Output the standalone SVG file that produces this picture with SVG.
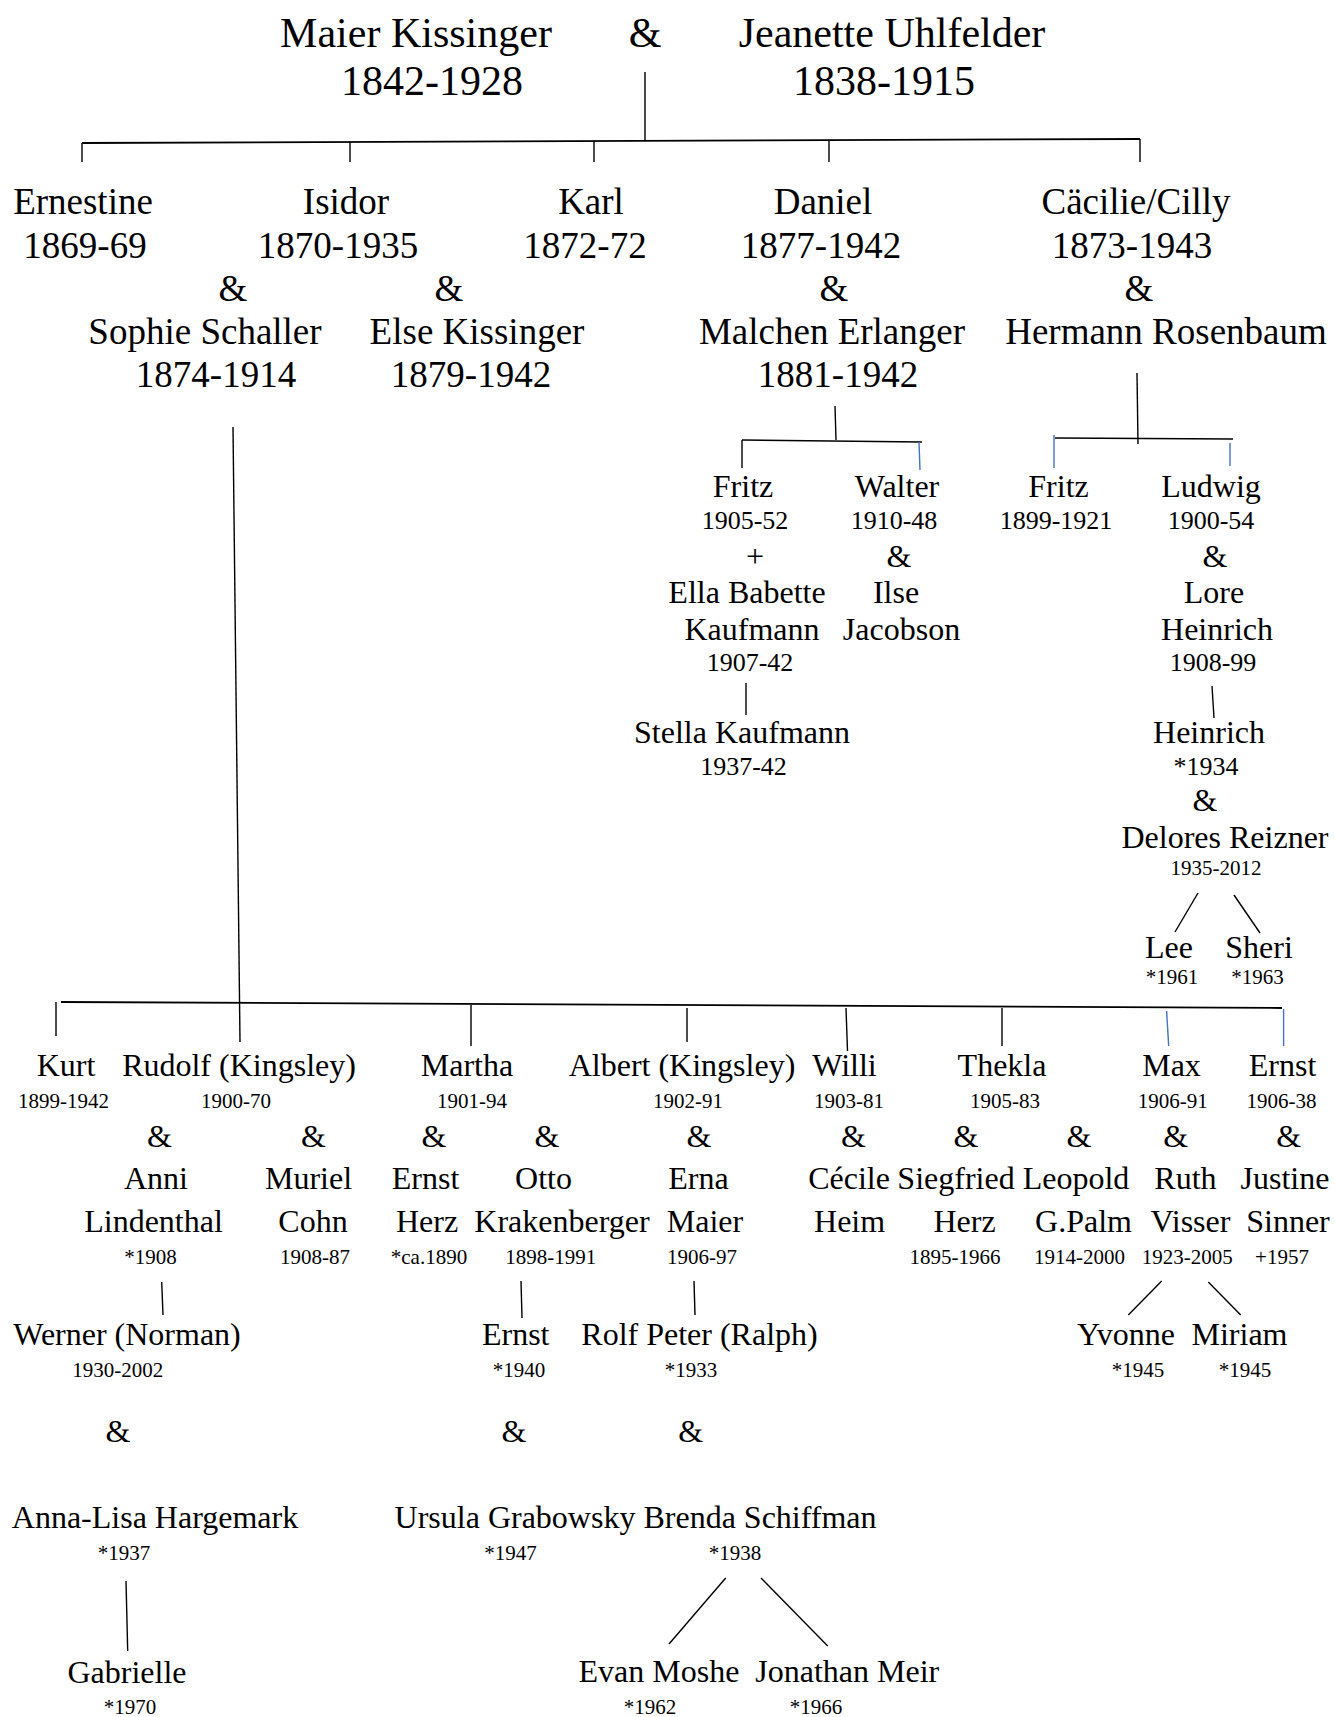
<svg xmlns="http://www.w3.org/2000/svg" width="1335" height="1717" viewBox="0 0 1335 1717">
<style>
text{font-family:"Liberation Serif","Times New Roman",serif;fill:#000;text-anchor:middle}
.t42{font-size:42px}
.t37{font-size:37px}
.n32{font-size:32px}
.y26{font-size:26px}
.y21{font-size:21px}
.c line{stroke:#000;stroke-width:1.4;fill:none}
.c line.b{stroke:#4472C4}
.c line.h{stroke-width:1.8}
</style>
<rect width="1335" height="1717" fill="#fff"/>
<g class="c" id="connectors">
<line x1="645" y1="72" x2="645" y2="140"/>
<line class="h" x1="82" y1="143" x2="1140" y2="139"/>
<line x1="82" y1="143" x2="82" y2="162"/>
<line x1="350" y1="142" x2="350" y2="162"/>
<line x1="594" y1="141" x2="594" y2="162"/>
<line x1="829" y1="140" x2="829" y2="162"/>
<line x1="1140" y1="139" x2="1140" y2="162"/>
<line x1="233" y1="427" x2="240" y2="1042"/>
<line x1="835" y1="406" x2="836" y2="440"/>
<line x1="742" y1="440" x2="922" y2="442"/>
<line x1="742" y1="440" x2="742" y2="468"/>
<line class="b" x1="919" y1="442" x2="920" y2="470"/>
<line x1="1137" y1="373" x2="1138" y2="444"/>
<line x1="1055" y1="438" x2="1233" y2="439"/>
<line class="b" x1="1054" y1="435" x2="1054" y2="468"/>
<line class="b" x1="1230" y1="443" x2="1230" y2="466"/>
<line x1="746" y1="683" x2="746" y2="715"/>
<line x1="1212" y1="686" x2="1214" y2="718"/>
<line x1="1198" y1="893" x2="1175" y2="932"/>
<line x1="1234" y1="895" x2="1260" y2="933"/>
<line class="h" x1="61" y1="1002" x2="1282" y2="1008"/>
<line x1="56" y1="1002" x2="56" y2="1036"/>
<line x1="471" y1="1005" x2="471" y2="1046"/>
<line x1="687" y1="1008" x2="687" y2="1042"/>
<line x1="846" y1="1008" x2="847.5" y2="1051"/>
<line x1="1002" y1="1008" x2="1002" y2="1046"/>
<line class="b" x1="1166.6" y1="1011" x2="1168.7" y2="1046"/>
<line class="b" x1="1283.6" y1="1009" x2="1283.6" y2="1046"/>
<line x1="161.7" y1="1282" x2="163" y2="1315"/>
<line x1="521" y1="1281" x2="522" y2="1318"/>
<line x1="694" y1="1281" x2="695" y2="1315"/>
<line x1="1161.7" y1="1281" x2="1128.3" y2="1315"/>
<line x1="1208.3" y1="1282" x2="1240.7" y2="1315"/>
<line x1="126" y1="1581" x2="127.7" y2="1651"/>
<line x1="725.7" y1="1578" x2="669" y2="1644"/>
<line x1="761" y1="1578" x2="827.7" y2="1646"/>
</g>
<g id="maier"><text class="t42" x="416" y="47">Maier Kissinger</text><text class="t42" x="432" y="95">1842-1928</text></g>
<g id="amp-top"><text class="t42" x="645" y="47">&amp;</text></g>
<g id="jeanette"><text class="t42" x="892" y="47">Jeanette Uhlfelder</text><text class="t42" x="884" y="95">1838-1915</text></g>
<g id="ernestine"><text class="t37" x="83" y="214">Ernestine</text><text class="t37" x="85" y="258">1869-69</text></g>
<g id="isidor"><text class="t37" x="346" y="214">Isidor</text><text class="t37" x="338" y="258">1870-1935</text></g>
<g id="sophie"><text class="t37" x="233" y="301">&amp;</text><text class="t37" x="205" y="344">Sophie Schaller</text><text class="t37" x="216" y="387">1874-1914</text></g>
<g id="else"><text class="t37" x="449" y="301">&amp;</text><text class="t37" x="477" y="344">Else Kissinger</text><text class="t37" x="471" y="387">1879-1942</text></g>
<g id="karl"><text class="t37" x="591" y="214">Karl</text><text class="t37" x="585" y="258">1872-72</text></g>
<g id="daniel"><text class="t37" x="823" y="214">Daniel</text><text class="t37" x="821" y="258">1877-1942</text><text class="t37" x="834" y="301">&amp;</text><text class="t37" x="832" y="344">Malchen Erlanger</text><text class="t37" x="838" y="387">1881-1942</text></g>
<g id="cacilie"><text class="t37" x="1136" y="214">Cäcilie/Cilly</text><text class="t37" x="1132" y="258">1873-1943</text><text class="t37" x="1139" y="301">&amp;</text><text class="t37" x="1166" y="344">Hermann Rosenbaum</text></g>
<g id="fritz-e"><text class="n32" x="743" y="497">Fritz</text><text class="y26" x="745" y="529">1905-52</text><text class="n32" x="755" y="567">+</text><text class="n32" x="747" y="603">Ella Babette</text><text class="n32" x="752" y="640">Kaufmann</text><text class="y26" x="750" y="671">1907-42</text></g>
<g id="stella"><text class="n32" x="742" y="743">Stella Kaufmann</text><text class="y26" x="743.5" y="775">1937-42</text></g>
<g id="walter"><text class="n32" x="897" y="497">Walter</text><text class="y26" x="894" y="529">1910-48</text><text class="n32" x="899" y="567">&amp;</text><text class="n32" x="896" y="603">Ilse</text><text class="n32" x="901.5" y="640">Jacobson</text></g>
<g id="fritz-r"><text class="n32" x="1058.5" y="497">Fritz</text><text class="y26" x="1056" y="529">1899-1921</text></g>
<g id="ludwig"><text class="n32" x="1211" y="497">Ludwig</text><text class="y26" x="1211" y="529">1900-54</text><text class="n32" x="1215" y="567">&amp;</text><text class="n32" x="1214" y="603">Lore</text><text class="n32" x="1217" y="640">Heinrich</text><text class="y26" x="1213" y="671">1908-99</text></g>
<g id="heinrich"><text class="n32" x="1209" y="743">Heinrich</text><text class="y26" x="1206" y="775">*1934</text><text class="n32" x="1205" y="811">&amp;</text><text class="n32" x="1225" y="848">Delores Reizner</text><text class="y21" x="1216" y="875">1935-2012</text></g>
<g id="lee"><text class="n32" x="1169" y="958">Lee</text><text class="y21" x="1172" y="984">*1961</text></g>
<g id="sheri"><text class="n32" x="1259" y="958">Sheri</text><text class="y21" x="1257.5" y="984">*1963</text></g>
<g id="kurt"><text class="n32" x="66" y="1076">Kurt</text><text class="y21" x="63.6" y="1108">1899-1942</text></g>
<g id="rudolf"><text class="n32" x="239" y="1076">Rudolf (Kingsley)</text><text class="y21" x="236" y="1108">1900-70</text></g>
<g id="anni"><text class="n32" x="159.5" y="1147">&amp;</text><text class="n32" x="156" y="1189">Anni</text><text class="n32" x="153.5" y="1232">Lindenthal</text><text class="y21" x="150.5" y="1264">*1908</text></g>
<g id="muriel"><text class="n32" x="313.4" y="1147">&amp;</text><text class="n32" x="308.5" y="1189">Muriel</text><text class="n32" x="313" y="1232">Cohn</text><text class="y21" x="315" y="1264">1908-87</text></g>
<g id="martha"><text class="n32" x="467" y="1076">Martha</text><text class="y21" x="472" y="1108">1901-94</text></g>
<g id="ernst-herz"><text class="n32" x="434" y="1147">&amp;</text><text class="n32" x="425.5" y="1189">Ernst</text><text class="n32" x="427" y="1232">Herz</text><text class="y21" x="429" y="1264">*ca.1890</text></g>
<g id="otto"><text class="n32" x="547" y="1147">&amp;</text><text class="n32" x="543.5" y="1189">Otto</text><text class="n32" x="562" y="1232">Krakenberger</text><text class="y21" x="550.7" y="1264">1898-1991</text></g>
<g id="albert"><text class="n32" x="682" y="1076">Albert (Kingsley)</text><text class="y21" x="688" y="1108">1902-91</text><text class="n32" x="699" y="1147">&amp;</text><text class="n32" x="698.5" y="1189">Erna</text><text class="n32" x="705" y="1232">Maier</text><text class="y21" x="702" y="1264">1906-97</text></g>
<g id="willi"><text class="n32" x="844.5" y="1076">Willi</text><text class="y21" x="849" y="1108">1903-81</text><text class="n32" x="853.4" y="1147">&amp;</text><text class="n32" x="849" y="1189">Cécile</text><text class="n32" x="849.6" y="1232">Heim</text></g>
<g id="thekla"><text class="n32" x="1002" y="1076">Thekla</text><text class="y21" x="1005" y="1108">1905-83</text></g>
<g id="siegfried"><text class="n32" x="966" y="1147">&amp;</text><text class="n32" x="956" y="1189">Siegfried</text><text class="n32" x="964.5" y="1232">Herz</text><text class="y21" x="955" y="1264">1895-1966</text></g>
<g id="leopold"><text class="n32" x="1079" y="1147">&amp;</text><text class="n32" x="1076" y="1189">Leopold</text><text class="n32" x="1083.5" y="1232">G.Palm</text><text class="y21" x="1079.5" y="1264">1914-2000</text></g>
<g id="max"><text class="n32" x="1171.5" y="1076">Max</text><text class="y21" x="1172.7" y="1108">1906-91</text><text class="n32" x="1175.8" y="1147">&amp;</text><text class="n32" x="1185.4" y="1189">Ruth</text><text class="n32" x="1190.5" y="1232">Visser</text><text class="y21" x="1187.3" y="1264">1923-2005</text></g>
<g id="ernst-s"><text class="n32" x="1282.6" y="1076">Ernst</text><text class="y21" x="1281.5" y="1108">1906-38</text><text class="n32" x="1288.6" y="1147">&amp;</text><text class="n32" x="1285" y="1189">Justine</text><text class="n32" x="1288" y="1232">Sinner</text><text class="y21" x="1282" y="1264">+1957</text></g>
<g id="werner"><text class="n32" x="127" y="1345">Werner (Norman)</text><text class="y21" x="117.7" y="1377">1930-2002</text><text class="n32" x="118" y="1442">&amp;</text></g>
<g id="anna-lisa"><text class="n32" x="155" y="1528">Anna-Lisa Hargemark</text><text class="y21" x="124" y="1560">*1937</text></g>
<g id="gabrielle"><text class="n32" x="127" y="1683">Gabrielle</text><text class="y21" x="130" y="1714">*1970</text></g>
<g id="ernst-k"><text class="n32" x="515.7" y="1345">Ernst</text><text class="y21" x="519" y="1377">*1940</text><text class="n32" x="514" y="1442">&amp;</text></g>
<g id="ursula"><text class="n32" x="515" y="1528">Ursula Grabowsky</text><text class="y21" x="510.6" y="1560">*1947</text></g>
<g id="rolf"><text class="n32" x="699.5" y="1345">Rolf Peter (Ralph)</text><text class="y21" x="691" y="1377">*1933</text><text class="n32" x="690.7" y="1442">&amp;</text></g>
<g id="brenda"><text class="n32" x="760" y="1528">Brenda Schiffman</text><text class="y21" x="735" y="1560">*1938</text></g>
<g id="evan"><text class="n32" x="659" y="1682">Evan Moshe</text><text class="y21" x="650" y="1714">*1962</text></g>
<g id="jonathan"><text class="n32" x="847.3" y="1682">Jonathan Meir</text><text class="y21" x="816" y="1714">*1966</text></g>
<g id="yvonne"><text class="n32" x="1126" y="1345">Yvonne</text><text class="y21" x="1138" y="1377">*1945</text></g>
<g id="miriam"><text class="n32" x="1239.5" y="1345">Miriam</text><text class="y21" x="1245" y="1377">*1945</text></g>
</svg>
